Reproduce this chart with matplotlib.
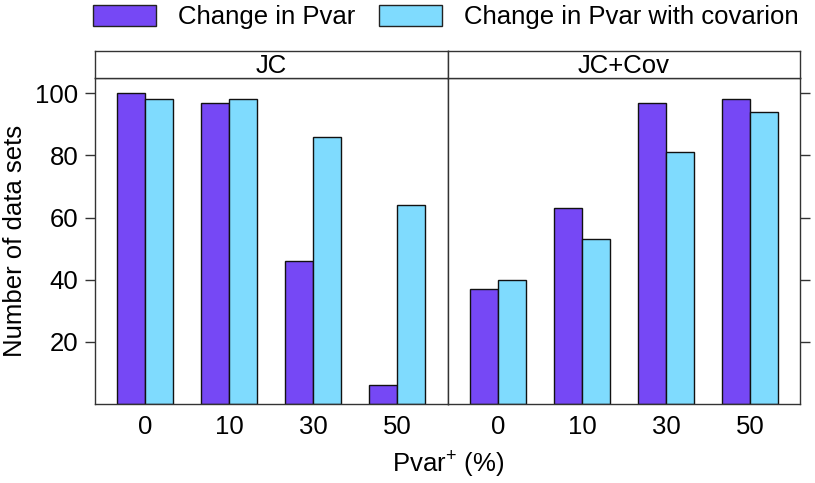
import numpy as np
import matplotlib
matplotlib.use("Agg")
import matplotlib.pyplot as plt
from matplotlib.patches import Patch

plt.rcParams['font.family'] = ['Liberation Sans', 'DejaVu Sans']
plt.rcParams['mathtext.fontset'] = 'custom'
plt.rcParams['mathtext.rm'] = 'Liberation Sans'
plt.rcParams['mathtext.it'] = 'Liberation Sans:italic'

categories = ["0", "10", "30", "50"]
panels = ["JC", "JC+Cov"]
series_names = ["Change in Pvar", "Change in Pvar with covarion"]
pvar_values = {"JC": [100, 97, 46, 6], "JC+Cov": [37, 63, 97, 98]}
cov_values = {"JC": [98, 98, 86, 64], "JC+Cov": [40, 53, 81, 94]}
yticks = [20, 40, 60, 80, 100]

purple = "#7648F5"
cyan = "#7FDBFE"
frame = "#333333"
fs = 18.5

W, H = 815, 483
fig = plt.figure(figsize=(W / 100, H / 100), dpi=100)

left0 = 95 / W
pw = 352.7 / W
bot = (H - 404) / H
ph = 326.3 / H
sh = 27 / H

x = np.arange(1, len(categories) + 1)
bw = 1 / 3

for i, name in enumerate(panels):
    ax = fig.add_axes([left0 + i * pw, bot, pw, ph])
    ax.bar(x - bw / 2, pvar_values[name], width=bw, color=purple,
           edgecolor="#111111", linewidth=1.0)
    ax.bar(x + bw / 2, cov_values[name], width=bw, color=cyan,
           edgecolor="#111111", linewidth=1.0)
    ax.set_xlim(0.4, 4.6)
    ax.set_ylim(0, 105)
    ax.set_xticks(x)
    ax.set_xticklabels(categories, fontsize=fs)
    ax.tick_params(axis='x', length=0, pad=8)
    ax.set_yticks(yticks)
    for s in ax.spines.values():
        s.set_color(frame)
        s.set_linewidth(1.0)
    if i == 0:
        ax.yaxis.tick_left()
        ax.set_yticklabels([str(v) for v in yticks], fontsize=fs)
        ax.tick_params(axis='y', length=7, width=1, color=frame, pad=5)
        ax.set_ylabel("Number of data sets", fontsize=fs, labelpad=6)
    else:
        ax.yaxis.tick_right()
        ax.tick_params(axis='y', length=7, width=1, color=frame,
                       labelright=False)
    # strip
    sax = fig.add_axes([left0 + i * pw, bot + ph, pw, sh])
    sax.set_xticks([])
    sax.set_yticks([])
    for s in sax.spines.values():
        s.set_color(frame)
        s.set_linewidth(1.0)
    sax.text(0.5, 0.45, name, ha='center', va='center', fontsize=fs,
             transform=sax.transAxes)

fig.text((95 + 2 * 352.7 / 2) / W, 1 - 465 / H, r"Pvar$^{+}$ (%)",
         ha='center', va='center', fontsize=fs)

handles = [Patch(facecolor=purple, edgecolor="#222222", linewidth=1.0),
           Patch(facecolor=cyan, edgecolor="#222222", linewidth=1.0)]
fig.legend(handles, series_names, loc='center', ncol=2,
           bbox_to_anchor=(446 / W, 1 - 17 / H), frameon=False,
           fontsize=fs, handlelength=2.45, handleheight=0.93,
           handletextpad=0.86, columnspacing=0.9, borderpad=0,
           borderaxespad=0)

fig.savefig("out.png", dpi=100)
